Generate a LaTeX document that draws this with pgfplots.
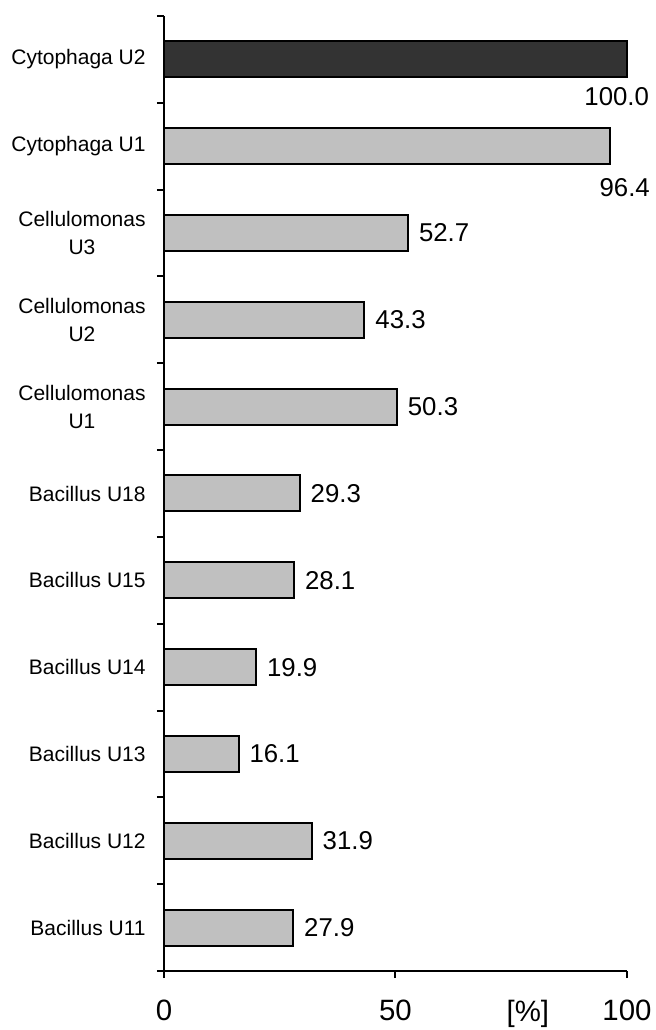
\documentclass[border=0pt]{standalone}
\usepackage{pgfplots}
\pgfplotsset{compat=1.18}
\usepackage{fontspec}
\setmainfont{Liberation Sans}
\definecolor{darkbar}{HTML}{333333}
\definecolor{graybar}{HTML}{C0C0C0}
\begin{document}
\begin{tikzpicture}
\begin{axis}[
  scale only axis,
  width=231.5bp, height=477.5bp,
  xmin=0, xmax=100, ymin=-0.5, ymax=10.5,
  axis lines*=left,
  axis line style={line width=1bp, black},
  tick align=outside,
  major tick length=3.5bp,
  tick style={line width=1bp, black},
  xtick={0,50,100},
  /pgf/number format/assume math mode=true,
  xticklabel style={font=\fontsize{14.7bp}{17bp}\selectfont, inner sep=0pt, yshift=-11bp},
  extra x ticks={78.6},
  extra x tick labels={[\%]},
  extra x tick style={major tick length=0pt, tick style={draw=none}, xticklabel style={yshift=-3.5bp}},
  ytick={-0.5,0.5,...,10.5},
  yticklabels={},
  extra y ticks={0,1,2,3,4,5,6,7,8,9,10},
  extra y tick labels={Bacillus U11,Bacillus U12,Bacillus U13,Bacillus U14,Bacillus U15,Bacillus U18,{Cellulomonas\\U1},{Cellulomonas\\U2},{Cellulomonas\\U3},Cytophaga U1,Cytophaga U2},
  extra y tick style={tick style={draw=none},
    yticklabel style={font=\fontsize{10.5bp}{14bp}\selectfont, align=center, inner sep=0pt, xshift=-5.5bp}},
  xbar, bar width=18bp, bar shift=0pt,
  point meta=explicit symbolic,
  nodes near coords,
  nodes near coords style={font=\fontsize{12.9bp}{15bp}\selectfont, inner sep=0pt},
  clip=false,
]
\addplot[fill=graybar, draw=black, line width=1bp,
  nodes near coords style={anchor=west, xshift=5bp}]
  coordinates {
  (27.9,0) [27.9]
  (31.9,1) [31.9]
  (16.1,2) [16.1]
  (19.9,3) [19.9]
  (28.1,4) [28.1]
  (29.3,5) [29.3]
  (50.3,6) [50.3]
  (43.3,7) [43.3]
  (52.7,8) [52.7]
};
\addplot[fill=graybar, draw=black, line width=1bp,
  nodes near coords style={anchor=north east, xshift=20.25bp, yshift=-15.5bp}]
  coordinates {(96.4,9) [96.4]};
\addplot[fill=darkbar, draw=black, line width=1bp,
  nodes near coords style={anchor=north east, xshift=11.5bp, yshift=-13.5bp}]
  coordinates {(100,10) [100.0]};
\coordinate (sw) at (rel axis cs:0,0);
\coordinate (ne) at (rel axis cs:1,1);
\end{axis}
\pgfresetboundingbox
\path ([xshift=-82bp,yshift=-29.5bp]sw) rectangle ([xshift=14.5bp,yshift=8bp]ne);
\end{tikzpicture}
\end{document}
